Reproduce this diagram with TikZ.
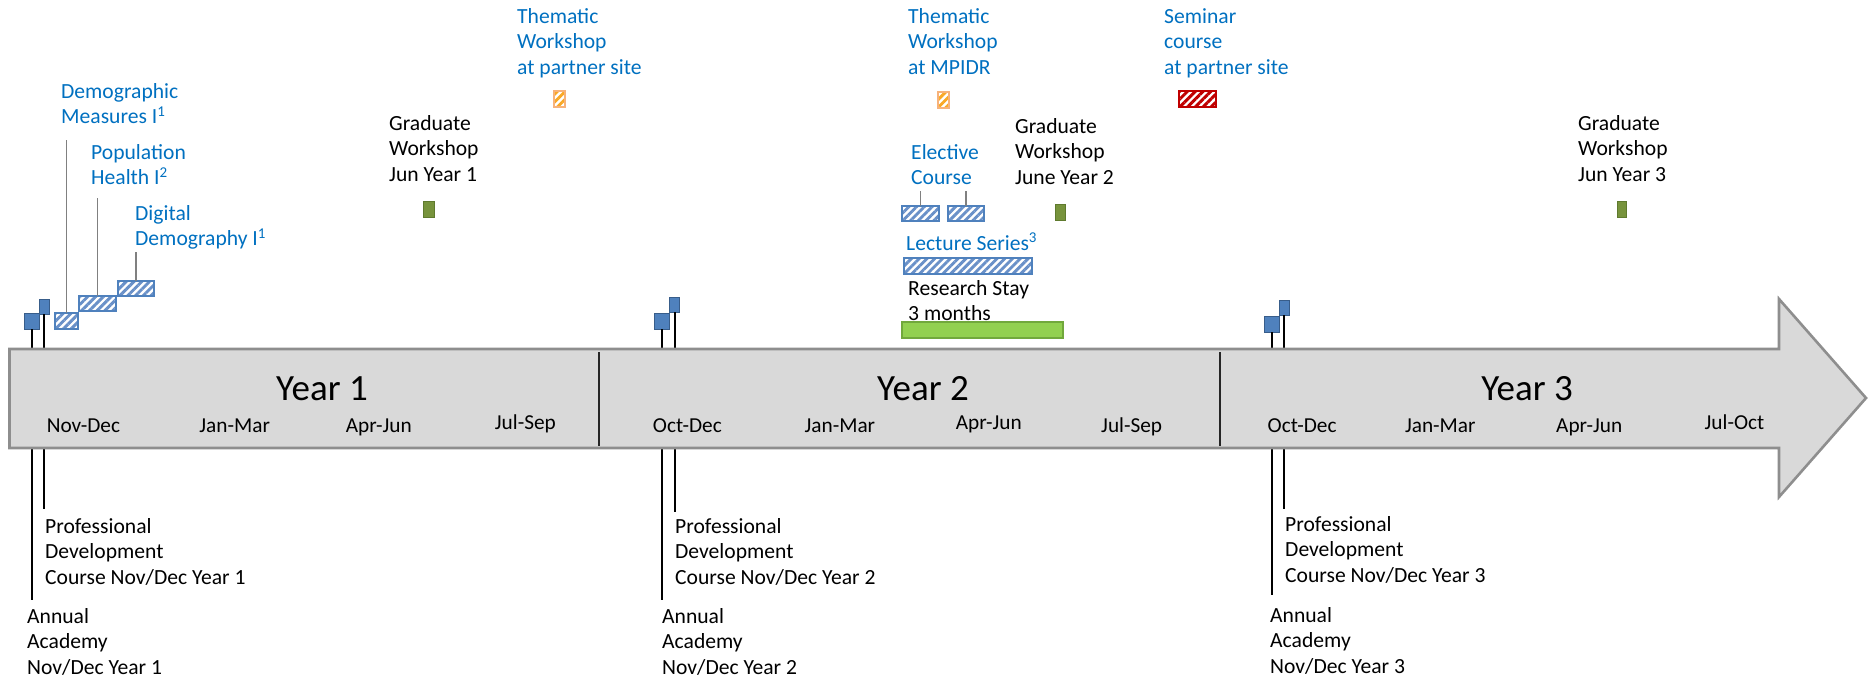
\documentclass[tikz,border=0pt]{standalone}
\usepackage{fontspec}
\setmainfont{Carlito}
\usetikzlibrary{patterns.meta}
\definecolor{textblue}{HTML}{0070C0}
\definecolor{axisfill}{HTML}{D9D9D9}
\definecolor{axisline}{HTML}{8E8E8E}
\definecolor{flagfill}{HTML}{4F81BD}
\definecolor{flagline}{HTML}{385D8A}
\definecolor{hatchblue}{HTML}{6990C8}
\definecolor{hatchorange}{HTML}{F9A825}
\definecolor{orangeline}{HTML}{F7B27A}
\definecolor{hatchred}{HTML}{C00000}
\definecolor{gwfill}{HTML}{77933C}
\definecolor{gwline}{HTML}{5F7A2E}
\definecolor{rsfill}{HTML}{92D050}
\definecolor{rsline}{HTML}{71A83C}
\definecolor{leadgray}{HTML}{808080}
\newcommand\supnum[1]{\raisebox{0.36em}{\fontsize{15pt}{15pt}\selectfont #1}}
\tikzset{
  lbl/.style={font=\fontsize{21.6pt}{25.8pt}\selectfont, inner sep=0pt, align=left, anchor=base west},
  bluelbl/.style={lbl, text=textblue},
  qlbl/.style={font=\fontsize{21.3pt}{25.8pt}\selectfont, inner sep=0pt, anchor=base},
  yearlbl/.style={font=\fontsize{37pt}{44pt}\selectfont, inner sep=0pt, anchor=base},
  bx/.style={anchor=north west, inner sep=0pt, outer sep=0pt},
  hatchbox/.style={bx, draw=flagfill, line width=1.2pt, pattern={Lines[angle=45,distance=5.5pt,line width=2.9pt]}, pattern color=hatchblue},
  orangebox/.style={bx, draw=orangeline, line width=1.2pt, pattern={Lines[angle=45,distance=5.5pt,line width=2.9pt]}, pattern color=hatchorange},
  redbox/.style={bx, draw=hatchred, line width=1.2pt, pattern={Lines[angle=45,distance=5.5pt,line width=2.9pt]}, pattern color=hatchred},
  gwbox/.style={bx, draw=gwline, fill=gwfill, line width=1pt},
  rsbox/.style={bx, draw=rsline, fill=rsfill, line width=1.2pt},
  flag/.style={bx, draw=flagline, fill=flagfill, line width=1pt},
  stem/.style={draw=black, line width=2pt},
  lead/.style={draw=leadgray, line width=1.6pt},
  divider/.style={draw=black!85, line width=2pt}
}
\begin{document}
\begin{tikzpicture}[x=1pt,y=-1pt]
\useasboundingbox (0,0) rectangle (1868,680);

% stem end coordinates
\coordinate (ac1e) at (31.5,600);
\coordinate (pd1e) at (44,509);
\coordinate (ac2e) at (662,600);
\coordinate (pd2e) at (674.5,512);
\coordinate (ac3e) at (1272,595);
\coordinate (pd3e) at (1284,509);

% flags
\node[flag, minimum width=15pt, minimum height=16pt] (ac1f) at (24,313) {};
\node[flag, minimum width=10pt, minimum height=15pt] (pd1f) at (39,299) {};
\node[flag, minimum width=15pt, minimum height=16pt] (ac2f) at (654.5,313) {};
\node[flag, minimum width=10pt, minimum height=15pt] (pd2f) at (669.5,297) {};
\node[flag, minimum width=15pt, minimum height=16pt] (ac3f) at (1264.5,316) {};
\node[flag, minimum width=10pt, minimum height=15pt] (pd3f) at (1279,300) {};

% stems (behind the arrow)
\draw[stem] (ac1f.south) -- (ac1e);
\draw[stem] (pd1f.south) -- (pd1e);
\draw[stem] (ac2f.south) -- (ac2e);
\draw[stem] (pd2f.south) -- (pd2e);
\draw[stem] (ac3f.south) -- (ac3e);
\draw[stem] (pd3f.south) -- (pd3e);

% main arrow
\draw[fill=axisfill, draw=axisline, line width=2.6pt, line join=miter]
  (9.5,349) -- (1779,349) -- (1779,299) -- (1866,398) -- (1779,497) -- (1779,448) -- (9.5,448) -- cycle;
\draw[divider] (599,352) -- (599,446);
\draw[divider] (1220,352) -- (1220,446);

% year labels
\node[yearlbl] (y1) at (322,400) {Year 1};
\node[yearlbl] (y2) at (923,400) {Year 2};
\node[yearlbl] (y3) at (1527,400) {Year 3};

% quarter labels
\node[qlbl] (q11) at (83.4,432) {Nov-Dec};
\node[qlbl] (q12) at (234.7,432) {Jan-Mar};
\node[qlbl] (q13) at (378.8,432) {Apr-Jun};
\node[qlbl] (q14) at (525.4,429) {Jul-Sep};
\node[qlbl] (q21) at (687.4,432) {Oct-Dec};
\node[qlbl] (q22) at (839.9,432) {Jan-Mar};
\node[qlbl] (q23) at (988.8,429) {Apr-Jun};
\node[qlbl] (q24) at (1131.7,432) {Jul-Sep};
\node[qlbl] (q31) at (1302.1,432) {Oct-Dec};
\node[qlbl] (q32) at (1440.3,432) {Jan-Mar};
\node[qlbl] (q33) at (1589.2,432) {Apr-Jun};
\node[qlbl] (q34) at (1734.5,429) {Jul-Oct};

% Year 1 courses
\node[hatchbox, minimum width=23pt, minimum height=16pt] (dm) at (55,313) {};
\node[hatchbox, minimum width=37pt, minimum height=15pt] (ph) at (79,296) {};
\node[hatchbox, minimum width=36pt, minimum height=15pt] (dd) at (118,281) {};
\coordinate (dmtop) at (66.5,140);
\coordinate (phtop) at (97.5,198);
\coordinate (ddtop) at (136,252);
\draw[lead] (dm.north) -- (dmtop);
\draw[lead] (ph.north) -- (phtop);
\draw[lead] (dd.north) -- (ddtop);
% (multi-line labels: anchor is the baseline of the last line)
\node[bluelbl] (dmL) at (61,123.8) {Demographic\\Measures I\supnum{1}};
\node[bluelbl] (phL) at (91,184.8) {Population\\Health I\supnum{2}};
\node[bluelbl] (ddL) at (135,245.8) {Digital\\Demography I\supnum{1}};

% workshops and seminars
\node[bluelbl] (twpL) at (517,74.6) {Thematic\\Workshop\\at partner site};
\node[orangebox, minimum width=11pt, minimum height=16pt] (tw1) at (554,91) {};
\node[lbl] (gw1L) at (389,181.6) {Graduate\\Workshop\\Jun Year 1};
\node[gwbox, minimum width=11pt, minimum height=16pt] (gw1) at (423,201) {};

\node[bluelbl] (twmL) at (908,74.6) {Thematic\\Workshop\\at MPIDR};
\node[orangebox, minimum width=11pt, minimum height=16pt] (tw2) at (938,92) {};
\node[bluelbl] (semL) at (1164,74.6) {Seminar\\course\\at partner site};
\node[redbox, minimum width=37pt, minimum height=16pt] (sem) at (1179,91) {};

\node[lbl] (gw2L) at (1015,184.6) {Graduate\\Workshop\\June Year 2};
\node[gwbox, minimum width=10pt, minimum height=16pt] (gw2) at (1055,204) {};

\node[bluelbl] (elL) at (911,184.8) {Elective\\Course};
\node[hatchbox, minimum width=37pt, minimum height=15pt] (el1) at (902,206) {};
\node[hatchbox, minimum width=36pt, minimum height=15pt] (el2) at (948,206) {};
\coordinate (el1top) at (920.5,191);
\coordinate (el2top) at (966,191);
\draw[lead] (el1.north) -- (el1top);
\draw[lead] (el2.north) -- (el2top);

\node[bluelbl] (lsL) at (906,250) {Lecture Series\supnum{3}};
\node[hatchbox, minimum width=128pt, minimum height=16pt] (ls) at (904,258) {};
\node[lbl] (rsL) at (908,320.8) {Research Stay\\3 months};
\node[rsbox, minimum width=161pt, minimum height=16pt] (rs) at (902,322) {};

\node[lbl] (gw3L) at (1578,181.6) {Graduate\\Workshop\\Jun Year 3};
\node[gwbox, minimum width=9pt, minimum height=16pt] (gw3) at (1617,201) {};

% lower labels
\node[lbl] (pd1L) at (45,584.6) {Professional\\Development\\Course Nov/Dec Year 1};
\node[lbl] (ac1L) at (27,674.6) {Annual\\Academy\\Nov/Dec Year 1};
\node[lbl] (pd2L) at (675,584.6) {Professional\\Development\\Course Nov/Dec Year 2};
\node[lbl] (ac2L) at (662,674.6) {Annual\\Academy\\Nov/Dec Year 2};
\node[lbl] (pd3L) at (1285,582.6) {Professional\\Development\\Course Nov/Dec Year 3};
\node[lbl] (ac3L) at (1270,673.6) {Annual\\Academy\\Nov/Dec Year 3};
\end{tikzpicture}
\end{document}
